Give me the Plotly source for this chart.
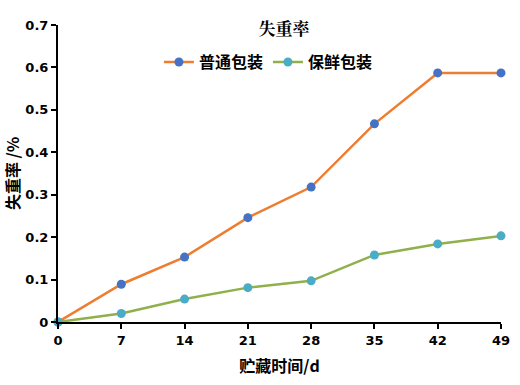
import plotly.graph_objects as go

days = [0, 7, 14, 21, 28, 35, 42, 49]
normal_pack = [0, 0.089, 0.153, 0.246, 0.318, 0.467, 0.587, 0.587]
fresh_pack = [0, 0.020, 0.054, 0.081, 0.097, 0.158, 0.184, 0.203]
series_names = ["普通包装", "保鲜包装"]

fig = go.Figure()
fig.add_trace(go.Scatter(
    x=days, y=normal_pack, name=series_names[0], mode="lines+markers",
    line=dict(color="#ED7D31", width=2.5),
    marker=dict(color="#4472C4", size=9),
    cliponaxis=False,
))
fig.add_trace(go.Scatter(
    x=days, y=fresh_pack, name=series_names[1], mode="lines+markers",
    line=dict(color="#8FB04A", width=2.5),
    marker=dict(color="#4BACC6", size=9),
    cliponaxis=False,
))

font_cjk = "Noto Sans CJK SC"
fig.update_layout(
    width=520, height=385,
    margin=dict(l=58, r=19, t=25, b=63),
    paper_bgcolor="white", plot_bgcolor="white",
    title=dict(text="失重率", xref="paper", x=0.51, xanchor="center", y=0.925, yanchor="middle",
               font=dict(family="Noto Serif CJK SC, " + font_cjk, size=17, color="black", weight="bold")),
    legend=dict(orientation="h", x=0.475, xanchor="center", y=0.875, yanchor="middle",
                font=dict(family=font_cjk, size=16, color="black", weight="bold"),
                bgcolor="rgba(0,0,0,0)", traceorder="normal"),
    showlegend=True,
)
fig.update_xaxes(
    range=[0, 49], tickvals=days, ticktext=[str(d) for d in days],
    automargin=False,
    showgrid=False, zeroline=False, showline=True, linecolor="black", linewidth=2,
    ticks="outside", ticklen=5, tickwidth=2, tickcolor="black",
    tickfont=dict(family="DejaVu Sans, Arial", size=13, color="black", weight="bold"),
    title=dict(text="贮藏时间/d", font=dict(family=font_cjk, size=16, color="black", weight="bold"), standoff=14),
)
fig.update_yaxes(
    range=[0, 0.7], dtick=0.1, tickformat=".1~f",
    automargin=False,
    showgrid=False, zeroline=False, showline=True, linecolor="black", linewidth=2,
    ticks="outside", ticklen=5, tickwidth=2, tickcolor="black",
    tickfont=dict(family="DejaVu Sans, Arial", size=13, color="black", weight="bold"),
    title=dict(text="失重率 /%", font=dict(family=font_cjk, size=16, color="black", weight="bold"), standoff=6),
)

fig.write_html("out.html", config={"displayModeBar": False},
               post_script="document.body.style.margin='0';")
